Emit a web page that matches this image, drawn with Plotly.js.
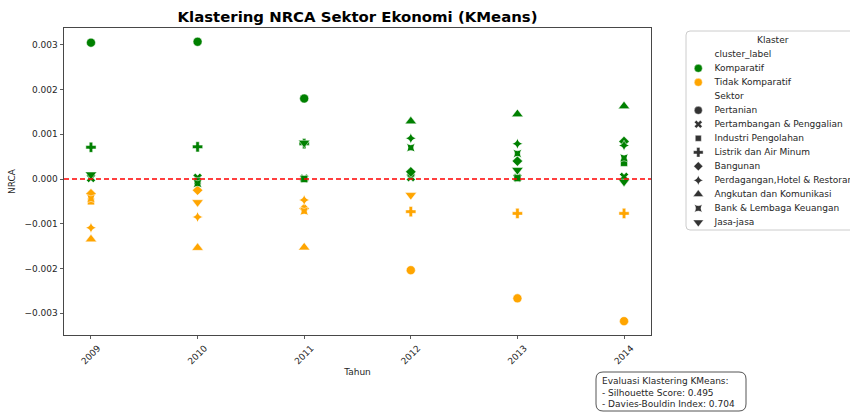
<!DOCTYPE html>
<html>
<head>
<meta charset="utf-8">
<script src="https://cdn.plot.ly/plotly-3.0.1.min.js"></script>
<style>html,body{margin:0;padding:0;background:#fff;}#chart{width:850px;height:414px;}</style>
</head>
<body>
<div id="chart"></div>
<script>
// ---------- DATA ----------
const years = [2009, 2010, 2011, 2012, 2013, 2014];
const sectors = ["Pertanian", "Pertambangan & Penggalian", "Industri Pengolahan", "Listrik dan Air Minum",
  "Bangunan", "Perdagangan,Hotel & Restoran", "Angkutan dan Komunikasi", "Bank & Lembaga Keuangan", "Jasa-jasa"];
const clusterNames = ["Komparatif", "Tidak Komparatif"];

const pertanian    = [0.00305, 0.00307, 0.00180, -0.00204, -0.00267, -0.00318];
const pertambangan = [0.00002, 0.00003, 0.00001, 0.00004, 0.00003, 0.00005];
const industri     = [-0.00050, -0.00005, 0.00000, 0.00012, 0.00002, 0.00036];
const listrik      = [0.00071, 0.00072, 0.00079, -0.00073, -0.00077, -0.00077];
const bangunan     = [-0.00033, -0.00025, -0.00066, 0.00016, 0.00040, 0.00084];
const perdagangan  = [-0.00109, -0.00085, -0.00047, 0.00091, 0.00079, 0.00075];
const angkutan     = [-0.00135, -0.00154, -0.00153, 0.00129, 0.00145, 0.00163];
const bank         = [-0.00044, -0.00010, -0.00072, 0.00070, 0.00057, 0.00047];
const jasa         = [0.00010, -0.00052, 0.00081, -0.00036, 0.00020, -0.00006];

const pertanianCl    = ["K","K","K","T","T","T"];
const pertambanganCl = ["K","K","K","K","K","K"];
const industriCl     = ["T","K","K","K","K","K"];
const listrikCl      = ["K","K","K","T","T","T"];
const bangunanCl     = ["T","T","T","K","K","K"];
const perdaganganCl  = ["T","T","T","K","K","K"];
const angkutanCl     = ["T","T","T","K","K","K"];
const bankCl         = ["T","K","T","K","K","K"];
const jasaCl         = ["K","T","K","T","K","K"];

const silhouette = 0.495;
const daviesBouldin = 0.704;

// ---------- STYLE ----------
const values = [pertanian, pertambangan, industri, listrik, bangunan, perdagangan, angkutan, bank, jasa];
const clusters = [pertanianCl, pertambanganCl, industriCl, listrikCl, bangunanCl, perdaganganCl, angkutanCl, bankCl, jasaCl];
const symbols = ["circle", "x", "square", "cross", "diamond", "star-diamond", "triangle-up", "star-square", "triangle-down"];
const sizes = [9, 8, 7, 8.5, 8, 7.5, 10, 7.5, 10];
const legSizes = [8, 7, 6, 8, 7, 7, 9, 7, 9];
const clusterColor = {K: "#008000", T: "#FFA500"};
const FONT = "DejaVu Sans, sans-serif";
const FS = 9;
const W = 850, H = 414, ML = 64, MT = 28, MB = 79;
const PW = W - ML, PH = H - MT - MB;
const mainRight = 651;
const px = p => (p - ML) / PW;
const py = p => (H - MB - p) / PH;

const traces = [];
sectors.forEach((s, i) => {
  traces.push({
    type: "scatter", mode: "markers", name: s, showlegend: false,
    x: years, y: values[i],
    marker: {symbol: symbols[i], size: sizes[i], opacity: 1, color: clusters[i].map(c => clusterColor[c]),
             line: {color: "white", width: 0.5}},
    xaxis: "x", yaxis: "y"
  });
});

// ---------- custom legend (on auxiliary axes) ----------
const legRows = [], legSym = [], legCol = [], legLabels = [], legSz = [], headerRows = [];
headerRows.push({row: 0, text: "cluster_label"});
clusterNames.forEach((c, i) => { legRows.push(1 + i); legSym.push("circle"); legSz.push(8); legCol.push(i === 0 ? clusterColor.K : clusterColor.T); legLabels.push(c); });
headerRows.push({row: 3, text: "Sektor"});
sectors.forEach((s, i) => { legRows.push(4 + i); legSym.push(symbols[i]); legSz.push(legSizes[i]); legCol.push("#333333"); legLabels.push(s); });

traces.push({
  type: "scatter", mode: "markers", showlegend: false, hoverinfo: "skip",
  x: legRows.map(() => 12.3), y: legRows,
  marker: {symbol: legSym, color: legCol, size: legSz, opacity: 1, line: {color: "white", width: 0.4}},
  xaxis: "x2", yaxis: "y2", cliponaxis: false
});
traces.push({
  type: "scatter", mode: "text", showlegend: false, hoverinfo: "skip",
  x: legRows.map(() => 28.5).concat(headerRows.map(() => 28.5)),
  y: legRows.concat(headerRows.map(h => h.row)),
  text: legLabels.concat(headerRows.map(h => h.text)),
  textposition: "middle right",
  textfont: {family: FONT, size: FS, color: "#262626"},
  xaxis: "x2", yaxis: "y2", cliponaxis: false
});

function roundRect(x0, y0, x1, y1, r) {
  const P = (x, y) => px(x) + "," + py(y);
  return "M" + P(x0 + r, y0) + " L" + P(x1 - r, y0) + " Q" + P(x1, y0) + " " + P(x1, y0 + r) +
    " L" + P(x1, y1 - r) + " Q" + P(x1, y1) + " " + P(x1 - r, y1) + " L" + P(x0 + r, y1) +
    " Q" + P(x0, y1) + " " + P(x0, y1 - r) + " L" + P(x0, y0 + r) + " Q" + P(x0, y0) + " " + P(x0 + r, y0) + " Z";
}

const layout = {
  width: W, height: H,
  margin: {l: ML, r: 0, t: MT, b: MB, pad: 0},
  paper_bgcolor: "white", plot_bgcolor: "white",
  font: {family: FONT, size: FS, color: "#262626"},
  showlegend: false,
  title: {text: "Klastering NRCA Sektor Ekonomi (KMeans)", x: px(357.5), xref: "paper", xanchor: "center",
          y: 1 - 17 / H, yref: "container", yanchor: "middle",
          font: {family: FONT, size: 14.9, weight: "bold", color: "#000"}},
  xaxis: {
    domain: [0, (mainRight - ML) / PW], range: [2008.747, 2014.253],
    tickvals: years, ticktext: years.map(String), tickangle: -45, ticklabelshift: 7,
    ticks: "outside", ticklen: 3.5, tickwidth: 0.8, tickcolor: "#333",
    showline: true, linecolor: "#333", linewidth: 0.9, mirror: true,
    showgrid: false, zeroline: false,
    tickfont: {family: FONT, size: FS, color: "#262626"},
    title: {text: "Tahun", font: {family: FONT, size: FS, color: "#262626"}, standoff: 3},
    anchor: "y"
  },
  yaxis: {
    domain: [0, 1], range: [-0.00349, 0.003378],
    tickvals: [-0.003, -0.002, -0.001, 0, 0.001, 0.002, 0.003], tickformat: ".3f",
    ticks: "outside", ticklen: 3.5, tickwidth: 0.8, tickcolor: "#333",
    showline: true, linecolor: "#333", linewidth: 0.9, mirror: true,
    showgrid: false, zeroline: false,
    tickfont: {family: FONT, size: FS, color: "#262626"},
    title: {text: "NRCA", font: {family: FONT, size: FS, color: "#262626"}, standoff: 7},
    anchor: "x"
  },
  xaxis2: {domain: [px(686), 1], range: [0, 164], visible: false, fixedrange: true, anchor: "y2"},
  yaxis2: {domain: [0, 1], range: [20.05, -1.879], visible: false, fixedrange: true, anchor: "x2"},
  shapes: [
    {type: "line", xref: "x domain", yref: "y", x0: 0, x1: 1, y0: 0, y1: 0,
     line: {color: "#ff0000", width: 1.3, dash: "5px,3px"}},
    {type: "path", xref: "paper", yref: "paper", path: roundRect(686, 31, 880, 230, 4),
     line: {color: "#cccccc", width: 1}, fillcolor: "rgba(255,255,255,0.8)", layer: "below"},
    {type: "path", xref: "paper", yref: "paper", path: roundRect(596, 372, 746, 411, 7),
     line: {color: "#555555", width: 1}, fillcolor: "white", layer: "above"}
  ],
  annotations: [
    {xref: "paper", yref: "paper", x: px(773), y: py(40), text: "Klaster", showarrow: false,
     xanchor: "center", yanchor: "middle", font: {family: FONT, size: FS, color: "#262626"}},
    {xref: "paper", yref: "paper", x: px(600), y: py(374), xanchor: "left", yanchor: "top", align: "left",
     showarrow: false,
     text: "Evaluasi Klastering KMeans:<br>- Silhouette Score: " + silhouette.toFixed(3) +
           "<br>- Davies-Bouldin Index: " + daviesBouldin.toFixed(3),
     font: {family: FONT, size: FS, color: "#262626"}}
  ]
};

Plotly.newPlot("chart", traces, layout, {displayModeBar: false, staticPlot: true});
</script>
</body>
</html>
